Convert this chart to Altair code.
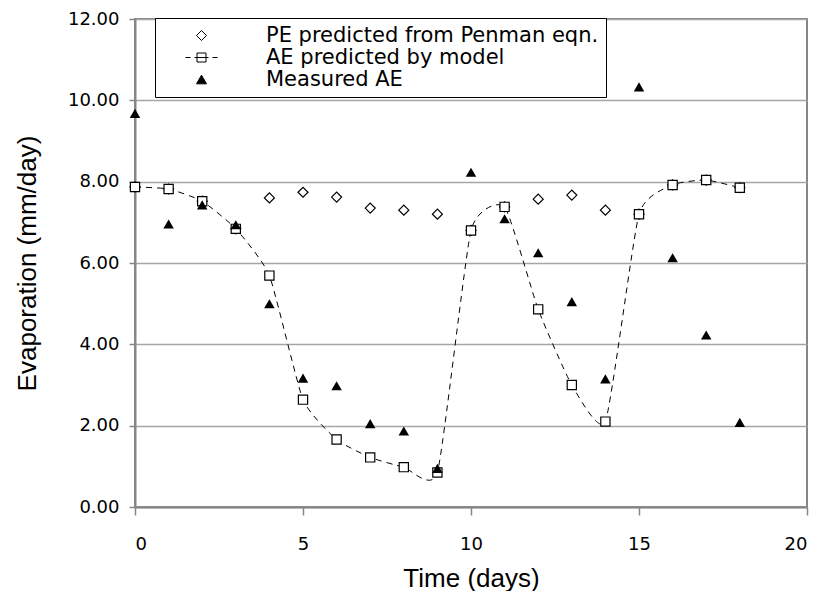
import altair as alt
import pandas as pd

days = list(range(19))
pe_values = [7.87, 7.82, 7.52, 6.84, 7.60, 7.74, 7.62, 7.35, 7.30, 7.20,
             6.80, 7.38, 7.57, 7.67, 7.30, 7.20, 7.92, 8.04, 7.85]
ae_model = [7.87, 7.82, 7.52, 6.84, 5.69, 2.64, 1.66, 1.22, 0.98, 0.85,
            6.80, 7.38, 4.86, 3.00, 2.10, 7.20, 7.92, 8.04, 7.85]
ae_measured = [9.68, 6.96, 7.43, 6.94, 5.00, 3.17, 2.98, 2.05, 1.87, 0.95,
               8.23, 7.09, 6.25, 5.05, 3.15, 10.33, 6.13, 4.23, 2.08]

names = ["PE predicted from Penman eqn.", "AE predicted by model", "Measured AE"]
x_ticks = [0, 5, 10, 15, 20]
y_ticks = [0, 2, 4, 6, 8, 10, 12]

rows = []
for n, vals in zip(names, [pe_values, ae_model, ae_measured]):
    for d, v in zip(days, vals):
        rows.append({"series": n, "day": d, "value": v})
df = pd.DataFrame(rows)

x_enc = alt.X("day:Q", scale=alt.Scale(domain=[0, 20], nice=False),
              axis=alt.Axis(values=x_ticks, format="d", title="Time (days)",
                            grid=False, tickSize=8, labelPadding=20,
                            titleY=71, titleBaseline="middle"))
y_enc = alt.Y("value:Q", scale=alt.Scale(domain=[0, 12], nice=False),
              axis=alt.Axis(values=y_ticks, format=".2f", title="Evaporation (mm/day)",
                            grid=True, tickSize=6, labelPadding=10,
                            titleX=-108, titleBaseline="middle"))

base = alt.Chart(df)

line = base.transform_filter(alt.datum.series == names[1]).mark_line(
    interpolate="cardinal", tension=0.5, color="black", strokeWidth=1,
    strokeDash=[6, 5]
).encode(x=x_enc, y=y_enc)

pe_pts = base.transform_filter(alt.datum.series == names[0]).mark_point(
    shape="diamond", filled=True, fill="white", stroke="black",
    strokeWidth=1.2, size=100, opacity=1
).encode(x=x_enc, y=y_enc)

ae_pts = base.transform_filter(alt.datum.series == names[1]).mark_point(
    shape="square", filled=True, fill="white", stroke="black",
    strokeWidth=1.2, size=85, opacity=1
).encode(x=x_enc, y=y_enc)

meas_pts = base.transform_filter(alt.datum.series == names[2]).mark_point(
    shape="triangle-up", filled=True, color="black", size=110, opacity=1
).encode(x=x_enc, y=y_enc)

legend_path = "M-3.2,0H-2.2M-1.4,0H1.4M2.2,0H3.2M-0.9,-0.9H0.9V0.9H-0.9Z"
leg = alt.Legend(title=None, orient="none", legendX=20, legendY=-1,
                 labelFont="DejaVu Sans", labelFontSize=21, labelColor="black",
                 labelOffset=54, symbolOffset=29, padding=7, rowPadding=0,
                 strokeColor="black", fillColor="white", symbolSize=100,
                 symbolStrokeColor="black", symbolStrokeWidth=1, labelLimit=1000)

legend_layer = base.transform_filter("false").mark_point(
    strokeWidth=1, size=100, opacity=1
).encode(
    x=x_enc, y=y_enc,
    shape=alt.Shape("series:N", scale=alt.Scale(domain=names,
                    range=["diamond", legend_path, "triangle-up"]), legend=leg),
    fill=alt.Fill("series:N", scale=alt.Scale(domain=names,
                  range=["white", "white", "black"]), legend=leg),
    stroke=alt.Stroke("series:N", scale=alt.Scale(domain=names,
                      range=["black", "black", "black"]), legend=leg),
)

chart = alt.layer(line, pe_pts, ae_pts, meas_pts, legend_layer).properties(
    width=672, height=488,
    padding={"left": 127, "top": 11, "right": 8, "bottom": 84},
    autosize=alt.AutoSizeParams(type="none"),
).configure_view(
    stroke="#868686", strokeWidth=2
).configure_axis(
    domainColor="#868686", domainWidth=2, tickColor="#868686", tickWidth=1.5,
    gridColor="#a6a6a6", gridWidth=1.5,
    labelFont="DejaVu Sans", labelFontSize=18, labelColor="black",
    titleFont="Liberation Sans", titleFontSize=26, titleFontWeight="normal",
    titleColor="black"
)

chart.save("out.html", embed_options={"renderer": "svg", "actions": False})
